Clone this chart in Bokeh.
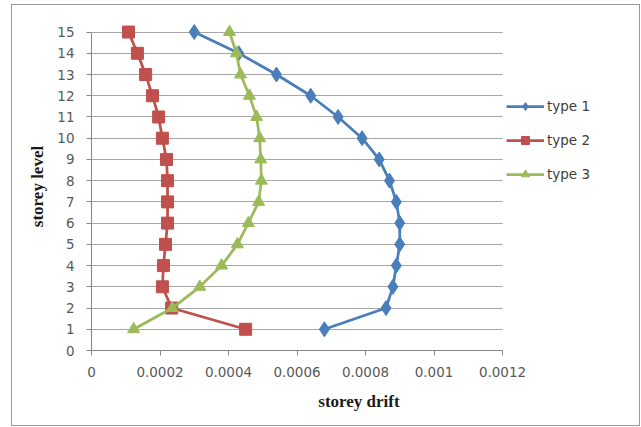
from bokeh.plotting import figure
from bokeh.models import Range1d, Legend, LegendItem, FixedTicker
from bokeh.embed import file_html
from bokeh.resources import INLINE

storey = [1, 2, 3, 4, 5, 6, 7, 8, 9, 10, 11, 12, 13, 14, 15]
type1 = [0.00068, 0.00086, 0.00088, 0.00089, 0.0009, 0.0009, 0.00089, 0.00087,
         0.00084, 0.00079, 0.00072, 0.00064, 0.00054, 0.00043, 0.0003]
type2 = [0.00045, 0.000234, 0.000207, 0.00021, 0.000216, 0.000222, 0.000222, 0.000222,
         0.000219, 0.000207, 0.000196, 0.000178, 0.000158, 0.000134, 0.000108]
type3 = [0.000123, 0.000236, 0.000316, 0.00038, 0.000426, 0.000458, 0.000488, 0.000496,
         0.000494, 0.000491, 0.000482, 0.000461, 0.000435, 0.000423, 0.000403]
series_names = ["type 1", "type 2", "type 3"]
x_ticks = [0, 0.0002, 0.0004, 0.0006, 0.0008, 0.001, 0.0012]
x_tick_labels = ["0", "0.0002", "0.0004", "0.0006", "0.0008", "0.001", "0.0012"]
y_ticks = list(range(0, 16))
x_max, y_max = 0.0012, 15

W, H = 641, 427
# frame extends to the right of the axis end so the legend can sit inside it
p = figure(width=W - 12, height=H - 5, output_backend="svg", toolbar_location=None,
           x_range=Range1d(0, 0.001562), y_range=Range1d(0, 15.45),
           min_border_left=79, min_border_right=15, min_border_top=17, min_border_bottom=77)
p.margin = (4, 0, 0, 11)
p.styles = {"border": "1px solid #9a9a9a", "box-sizing": "border-box"}
p.outline_line_color = None
p.background_fill_color = "white"
p.border_fill_color = "white"

# grid
p.xgrid.grid_line_color = None
p.ygrid.grid_line_color = "#a6a6a6"
p.ygrid.grid_line_width = 1
p.ygrid.ticker = FixedTicker(ticks=y_ticks)
p.ygrid.cross_bounds = (0, x_max)

# axes
tick_font = "DejaVu Sans"
for ax in (p.xaxis[0], p.yaxis[0]):
    ax.axis_line_color = "#868686"
    ax.major_tick_line_color = "#868686"
    ax.minor_tick_line_color = None
    ax.major_tick_in = 0
    ax.major_tick_out = 5
    ax.major_label_text_font = tick_font
    ax.major_label_text_font_size = "13.5px"
    ax.major_label_text_color = "#595959"
    ax.axis_label_text_font = "Liberation Serif"
    ax.axis_label_text_font_style = "bold"
    ax.axis_label_text_font_size = "17px"
    ax.axis_label_text_color = "#1a1a1a"

p.xaxis.ticker = FixedTicker(ticks=x_ticks)
p.xaxis.bounds = (0, x_max)
p.xaxis.major_label_overrides = {t: l for t, l in zip(x_ticks, x_tick_labels)}
p.xaxis.major_label_standoff = 11
p.xaxis.axis_label = "storey drift"
p.xaxis.axis_label_standoff = 12

p.yaxis.ticker = FixedTicker(ticks=y_ticks)
p.yaxis.bounds = (0, y_max)
p.yaxis.major_label_standoff = 12
p.yaxis.axis_label = "storey level"
p.yaxis.axis_label_standoff = 7

colors = ["#4a7ebb", "#c0504d", "#9bbb59"]
markers = ["diamond", "square", "triangle"]
sizes = [15, 12, 12]
data = [type1, type2, type3]
items = []
for vals, c, m, s, name in zip(data, colors, markers, sizes, series_names):
    l = p.line(vals, storey, line_color=c, line_width=2.75)
    sc = p.scatter(vals, storey, marker=m, size=s, fill_color=c, line_color=c)
    items.append(LegendItem(label=name, renderers=[l, sc]))

legend = Legend(items=items, location=(415, 166), orientation="vertical",
                background_fill_alpha=0, border_line_color=None,
                padding=0, margin=0, spacing=14, label_height=20,
                glyph_width=38, glyph_height=20, label_standoff=3,
                label_text_font=tick_font, label_text_font_size="13.5px",
                label_text_color="#404040")
p.add_layout(legend, "center")

open("out.html", "w").write(file_html(p, INLINE))
